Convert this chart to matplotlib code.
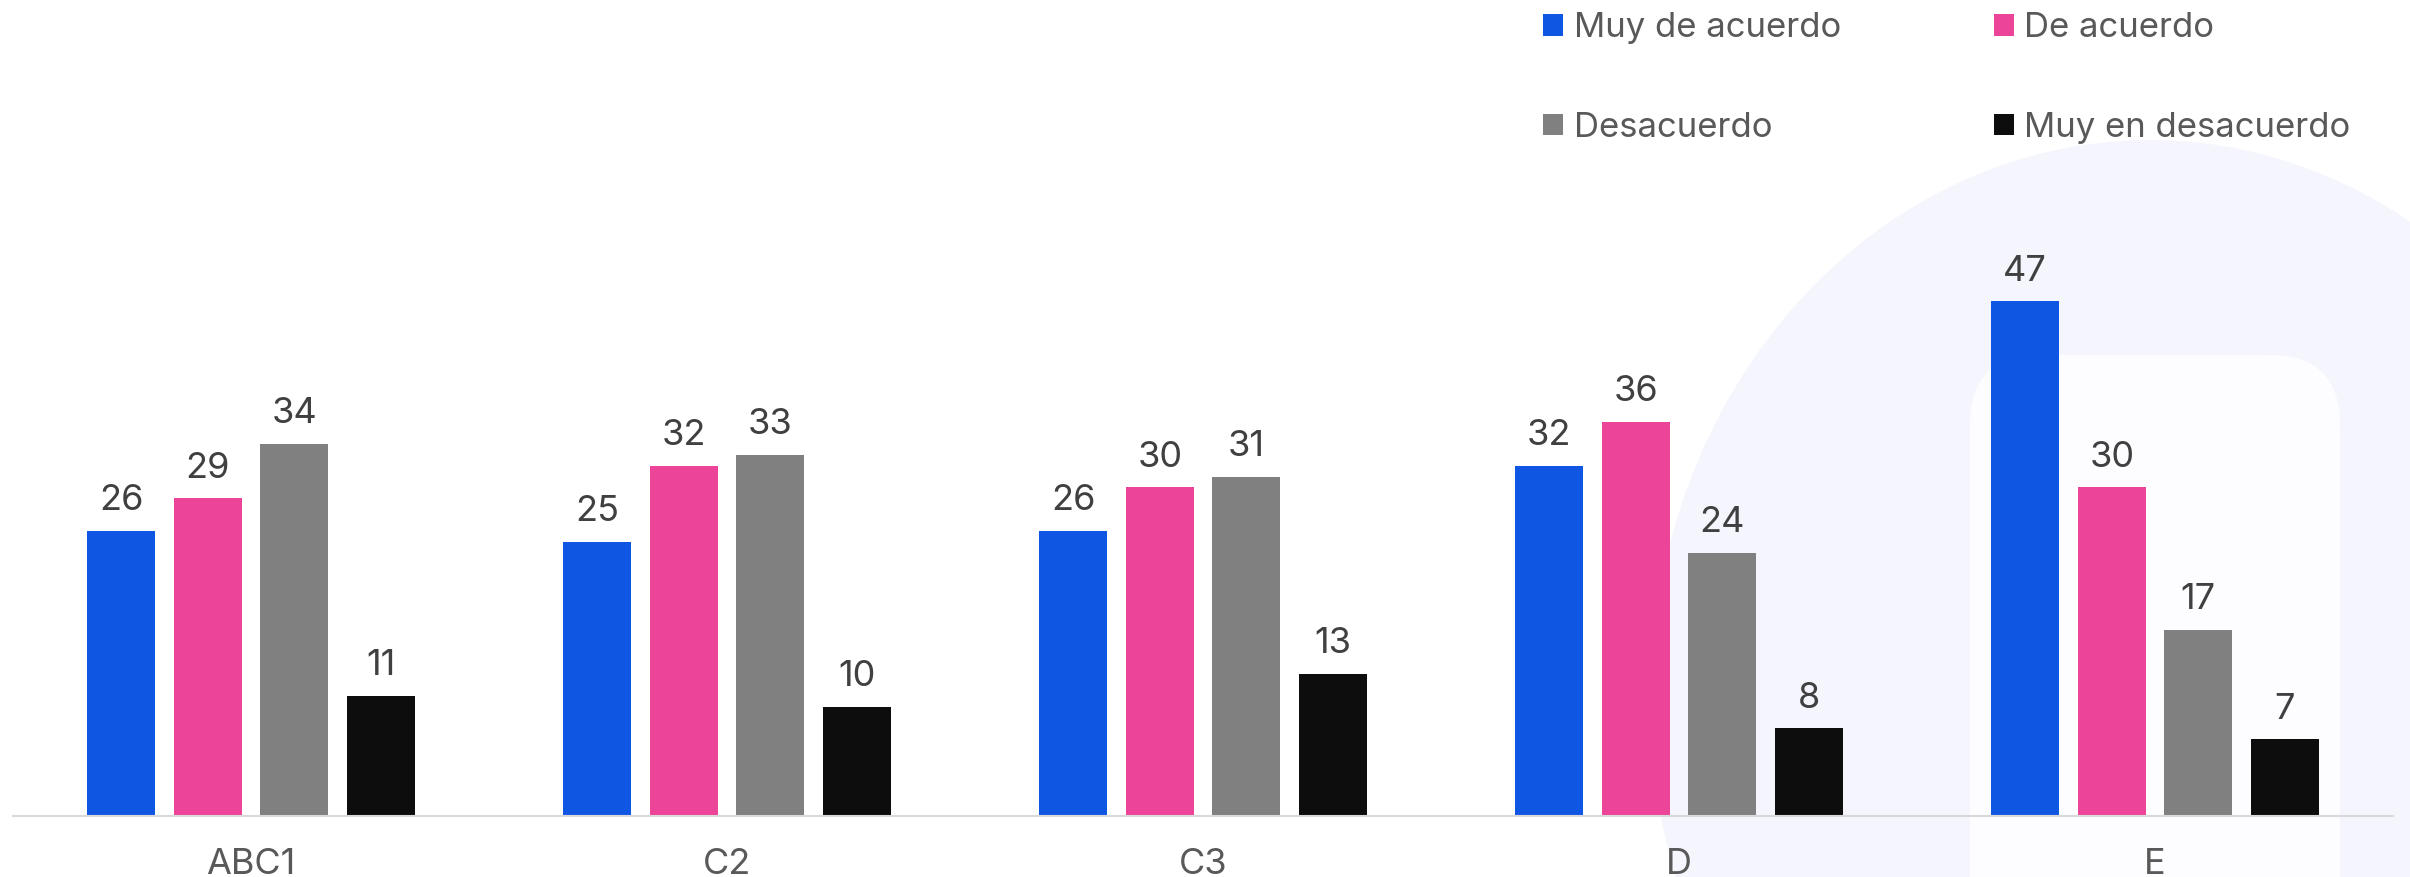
import matplotlib.pyplot as plt
import numpy as np
from matplotlib.patches import Ellipse, FancyBboxPatch, Patch

plt.rcParams["font.family"] = ["Inter", "DejaVu Sans"]

categories = ["ABC1", "C2", "C3", "D", "E"]
series_names = ["Muy de acuerdo", "De acuerdo", "Desacuerdo", "Muy en desacuerdo"]
muy_de_acuerdo = [26, 25, 26, 32, 47]
de_acuerdo = [29, 32, 30, 36, 30]
desacuerdo = [34, 33, 31, 24, 17]
muy_en_desacuerdo = [11, 10, 13, 8, 7]

colors = ["#0f57e3", "#ec4498", "#808080", "#0d0d0d"]

W, H = 2410, 877
fig = plt.figure(figsize=(W / 100, H / 100), dpi=100)

# faint logo watermark behind the chart (pixel coordinates)
bg = fig.add_axes([0, 0, 1, 1], zorder=0)
bg.set_xlim(0, W)
bg.set_ylim(H, 0)
bg.axis("off")
bg.add_patch(Ellipse((2150, 700), 1000, 1120, facecolor="#f5f6fd", edgecolor="none"))
bg.add_patch(FancyBboxPatch((2040, 425), 230, 600, boxstyle="round,pad=70",
                            facecolor="#fdfdff", edgecolor="none"))

ax = fig.add_axes([13 / W, 61 / H, 2380 / W, 547.5 / H], zorder=1)
ax.set_facecolor("none")

x = np.arange(len(categories))
step = 0.1817
width = 0.143
series = [muy_de_acuerdo, de_acuerdo, desacuerdo, muy_en_desacuerdo]
for i, (vals, c) in enumerate(zip(series, colors)):
    pos = x + (i - 1.5) * step
    ax.bar(pos, vals, width=width, color=c, zorder=2)
    for px, v in zip(pos, vals):
        ax.annotate(str(v), (px, v), xytext=(0, 15), textcoords="offset points",
                    ha="center", va="baseline", fontsize=26, color="#404040")

ax.set_xlim(-0.5, len(categories) - 0.5)
ax.set_ylim(0, 50)
ax.set_xticks(x)
ax.set_xticklabels(categories, fontsize=26, color="#595959")
ax.tick_params(axis="x", length=0, pad=23)
ax.set_yticks([])
for s in ["top", "right", "left"]:
    ax.spines[s].set_visible(False)
ax.spines["bottom"].set_color("#d9d9d9")
ax.spines["bottom"].set_linewidth(1.5)

# legend: 2 columns, filled column-wise
order = [0, 2, 1, 3]
handles = [Patch(facecolor=colors[k], edgecolor="none") for k in order]
labels = [series_names[k] for k in order]
fig.legend(handles, labels, ncol=2, loc="upper left",
           bbox_to_anchor=(1543 / W, 1 - 12 / H), frameon=False,
           fontsize=25, labelcolor="#595959", borderpad=0, borderaxespad=0,
           handlelength=0.58, handleheight=0.58, handletextpad=0.3,
           columnspacing=4.4, labelspacing=1.95)

fig.savefig("out.png", dpi=100)
